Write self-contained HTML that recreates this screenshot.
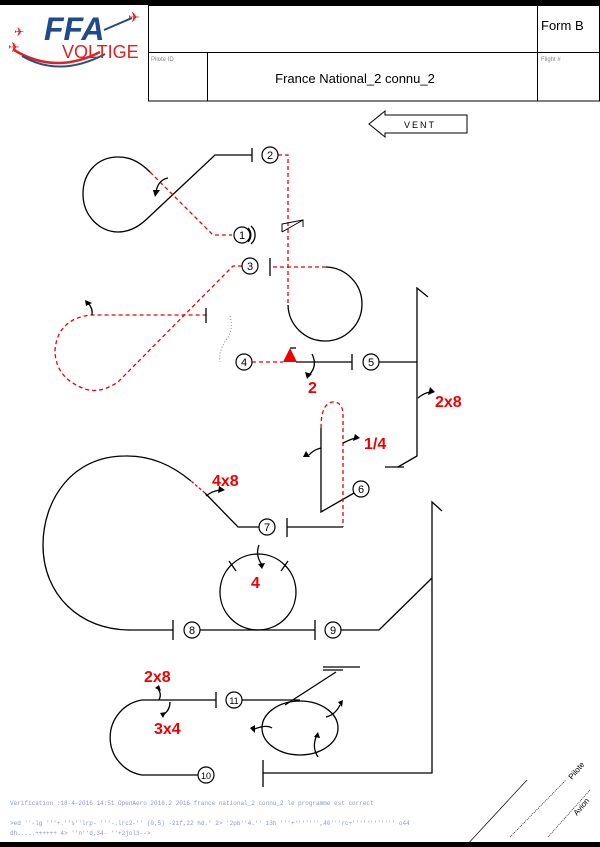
<!DOCTYPE html>
<html><head><meta charset="utf-8"><style>
body{margin:0;background:#fff;}
svg{display:block;font-family:"Liberation Sans",sans-serif;}
.ft{position:absolute;left:10px;font:6px "Liberation Mono",monospace;color:#8c94e0;white-space:pre;}
</style></head><body style="position:relative;width:600px;height:847px;overflow:hidden">
<svg width="600" height="847" viewBox="0 0 600 847" xmlns="http://www.w3.org/2000/svg" style="position:absolute;left:0;top:0">
<rect x="0" y="0" width="600" height="5" fill="#000"/>
<rect x="0" y="842" width="600" height="5" fill="#000"/>
<!-- logo -->
<path d="M14 50 Q55 75 100 52" stroke="#d22" stroke-width="2.5" fill="none"/>
<path d="M22 56 Q60 78 105 54" stroke="#2a4d8f" stroke-width="2" fill="none"/>
<text x="44" y="40" font-size="32" font-weight="bold" font-style="italic" fill="#1f4a8c">FFA</text>
<text x="62" y="58" font-size="18" fill="#d22">VOLTIGE</text>
<path d="M104 30 L132 18" stroke="#1f4a8c" stroke-width="2"/>
<text x="128" y="22" font-size="14" fill="#d22">✈</text>
<text x="8" y="52" font-size="14" fill="#d22">✈</text>
<text x="14" y="36" font-size="12" fill="#d22">✈</text>
<!-- header box -->
<g stroke="#000" stroke-width="1" fill="none">
<rect x="148.5" y="5.5" width="451" height="95.5"/>
<line x1="148" y1="52.5" x2="600" y2="52.5"/>
<line x1="537.5" y1="5" x2="537.5" y2="101"/>
<line x1="207.5" y1="52" x2="207.5" y2="101"/>
</g>
<text x="541" y="30" font-size="13">Form B</text>
<text x="151" y="61" font-size="6" fill="#888">Pilote ID</text>
<text x="541" y="61" font-size="6" fill="#888">Flight #</text>
<text x="355" y="83" font-size="13" text-anchor="middle">France National_2 connu_2</text>
<!-- vent -->
<path d="M369 124 L385 111 L385 115 L467 115 L467 133 L385 133 L385 137 Z" fill="#fff" stroke="#000"/>
<text x="420" y="128" font-size="9" text-anchor="middle" letter-spacing="2">VENT</text>

<g stroke="#000" stroke-width="1.3" fill="none">
<!-- fig1 -->
<path d="M150 172 C138 160 128 157 118 157 C98 157 83 172 83 194 C83 216 100 232 118 232 C132 232 142 224 150 216 L215 155 L252 155"/>
<line x1="252" y1="148" x2="252" y2="162"/>
<path d="M150 172 L213 235 L232 235" stroke="#e00" stroke-dasharray="4,3"/>
<path d="M168 178 Q158 180 156 192"/>
<path d="M248 228 A10 10 0 0 1 248 242"/><path d="M251 226 A12 12 0 0 1 251 244"/>
<!-- fig2 -->
<path d="M278 155 L288 155 L288 305" stroke="#e00" stroke-dasharray="4,3"/>
<path d="M282 232 L282 224 L303 220 L303 227" stroke-width="1"/>
<line x1="282" y1="232" x2="303" y2="220" stroke-width="1"/>
<path d="M288 305 A37 37 0 1 0 326 267"/>
<path d="M326 267 L270 267" stroke="#e00" stroke-dasharray="4,3"/>
<line x1="270" y1="258" x2="270" y2="276"/>
<!-- fig3 -->
<path d="M242 266 L233 266 L118 382 Q100 394 85 389 Q55 378 55 350 Q58 318 92 315 L206 315" stroke="#e00" stroke-dasharray="4,3"/>
<line x1="206" y1="308" x2="206" y2="323"/>
<path d="M92 315 Q93 308 88 303"/>
<path d="M230 316 Q234 330 226 340 Q218 352 220 362" stroke="#888" stroke-width="1" stroke-dasharray="1,2"/>
<!-- fig4 -->
<path d="M252 362 L283 362" stroke="#e00" stroke-dasharray="4,3"/>
<line x1="296" y1="362" x2="352" y2="362"/>
<line x1="352" y1="354" x2="352" y2="370"/>
<path d="M312 354 Q318 366 309 375"/>
<line x1="290" y1="348" x2="296" y2="348"/>
<!-- fig5 -->
<line x1="379" y1="362" x2="417" y2="362"/>
<path d="M428 297 L417 288 L417 456 L398 467"/>
<line x1="385" y1="467" x2="404" y2="467"/>
<path d="M418 398 Q424 393 430 392"/>
<!-- fig6 -->
<path d="M354 493 L321 512 L321 428"/>
<path d="M321 428 Q321 403 333 402 Q343 402 343 415 L343 527" stroke="#e00" stroke-dasharray="4,3"/>
<path d="M343 527 L287 527"/>
<line x1="287" y1="518" x2="287" y2="537"/>
<path d="M321 448 Q313 450 309 455"/>
<path d="M343 443 Q349 440 355 438"/>
<!-- fig7 -->
<path d="M259 527 L238 527 L205 493"/>
<path d="M205 493 L191 481" stroke="#e00" stroke-dasharray="3,2"/>
<path d="M191 481 Q160 455 125 456 C72 456 43 500 43 545 C43 595 80 630 130 630 L173 630"/>
<line x1="173" y1="620" x2="173" y2="640"/>
<path d="M206 496 Q212 491 220 490"/>
<!-- fig8 -->
<line x1="200" y1="630" x2="315" y2="630"/>
<line x1="315" y1="620" x2="315" y2="640"/>
<circle cx="258" cy="592" r="38"/>
<line x1="229" y1="561" x2="236" y2="571"/><line x1="288" y1="561" x2="281" y2="571"/>
<path d="M259 545 Q255 555 262 565"/>
<!-- fig9 -->
<path d="M341 630 L379 630 L432 578"/>
<path d="M442 511 L432 502 L432 773 L263 773"/>
<line x1="263" y1="760" x2="263" y2="787"/>
<!-- fig10/11 -->
<path d="M198 775 L142 775 A38 38 0 0 1 142 700 L216 700"/>
<line x1="216" y1="692" x2="216" y2="708"/>
<path d="M159 700 Q162 694 158 689"/><path d="M170 702 Q170 710 164 714"/>
<line x1="242" y1="700" x2="300" y2="700"/>
<ellipse cx="300" cy="728" rx="38" ry="27"/>
<path d="M285 705 L336 672"/>
<line x1="323" y1="667" x2="360" y2="667"/><line x1="323" y1="670" x2="343" y2="670"/>
<path d="M272 728 Q266 724 252 730"/>
<path d="M326 717 Q335 715 340 705"/>
<path d="M318 757 Q312 748 316 737"/>
</g>
<!-- arrowheads -->
<g fill="#000">
<path d="M153 190 L160 190 L155 197Z"/>
<path d="M85 300 L92 303 L86 306Z"/>
<path d="M305 372 L312 374 L307 379Z"/>
<path d="M430 387 L435 392 L428 395Z"/>
<path d="M306 451 L303 457 L310 457Z"/>
<path d="M355 434 L360 438 L353 441Z"/>
<path d="M219 486 L225 490 L218 493Z"/>
<path d="M258 564 L265 563 L262 569Z"/>
<path d="M155 688 L159 685 L161 691Z"/>
<path d="M160 713 L166 712 L163 718Z"/>
<path d="M250 728 L255 725 L255 733Z"/>
<path d="M338 702 L343 700 L342 707Z"/>
<path d="M314 737 L318 732 L320 738Z"/>
</g>
<path d="M283 362 L290 348 L297 362Z" fill="#e00"/>
<!-- numbered circles -->
<g fill="#fff" stroke="#000" stroke-width="1.2">
<circle cx="242" cy="235" r="8"/><circle cx="270" cy="155" r="8"/><circle cx="250" cy="266" r="8"/>
<circle cx="244" cy="362" r="8"/><circle cx="371" cy="362" r="8"/><circle cx="361" cy="489" r="8"/>
<circle cx="267" cy="527" r="8"/><circle cx="192" cy="630" r="8"/><circle cx="333" cy="630" r="8"/>
<circle cx="206" cy="775" r="8"/><circle cx="234" cy="700" r="8"/>
</g>
<g font-size="11" text-anchor="middle">
<text x="242" y="239">1</text><text x="270" y="159">2</text><text x="250" y="270">3</text>
<text x="244" y="366">4</text><text x="371" y="366">5</text><text x="361" y="493">6</text>
<text x="267" y="531">7</text><text x="192" y="634">8</text><text x="333" y="634">9</text>
<text x="206" y="779" font-size="9">10</text><text x="234" y="704" font-size="9">11</text>
</g>
<g fill="#e00" font-weight="bold" font-size="16">
<text x="308" y="393">2</text><text x="435" y="407">2x8</text><text x="364" y="449">1/4</text>
<text x="212" y="486">4x8</text><text x="251" y="588">4</text>
<text x="144" y="682">2x8</text><text x="154" y="734">3x4</text>
</g>
<g stroke="#000" stroke-width="0.7">
<line x1="465" y1="847" x2="527" y2="780"/>
<line x1="510" y1="837" x2="566" y2="780" stroke-dasharray="1,1"/>
<line x1="548" y1="837" x2="590" y2="790" stroke-dasharray="1,1"/>
</g>
<text x="0" y="0" font-size="8" transform="translate(572,780) rotate(-50)">Pilote</text>
<text x="0" y="0" font-size="8" transform="translate(577,816) rotate(-50)">Avion</text>
</svg>
<div class="ft" style="top:800px">Vérification :18-4-2016 14:51 OpenAero 2016.2 2016 france national_2 connu_2 le programme est correct</div>
<div class="ft" style="top:820px">&gt;ed ''-lg '''+.''s''lrp- '''-.lrc2-'' (0,5) -21f,22 hd.' 2&gt; '2pb''4.'' 13h '''+''''''',40'''rc+'''''''''''' o44</div>
<div class="ft" style="top:830px">dh.....++++++ 4&gt; ''n''d,34- ''+2jol3--&gt;</div>
</body></html>
